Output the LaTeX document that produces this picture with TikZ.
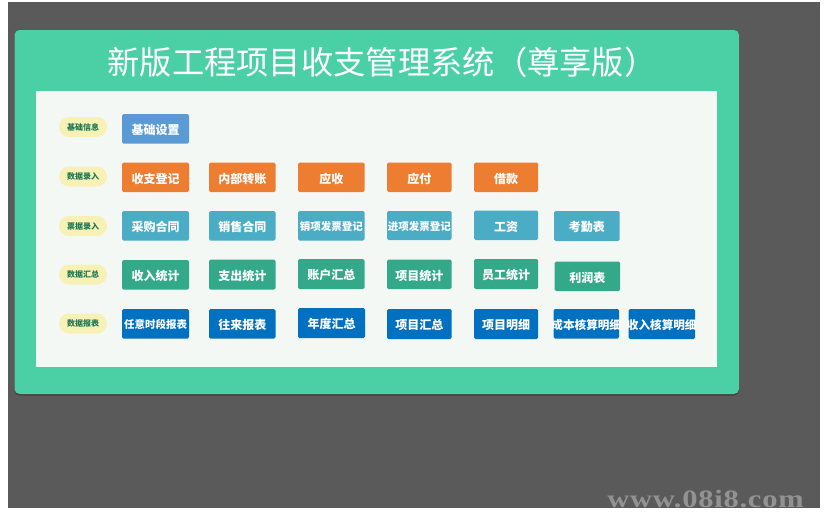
\documentclass[tikz,border=0pt]{standalone}
\usepackage{fontspec}
\setmainfont{Liberation Serif}
\newfontfamily\cjk{Noto Sans CJK SC}
\definecolor{bggray}{HTML}{5A5A5A}
\definecolor{panelgreen}{HTML}{4BD0A5}
\definecolor{innerbg}{HTML}{F3F8F5}
\definecolor{cblue}{HTML}{5B9BD5}
\definecolor{corange}{HTML}{ED7D31}
\definecolor{cteal}{HTML}{4BACC6}
\definecolor{cgreen}{HTML}{33A98A}
\definecolor{cdeep}{HTML}{0070C0}
\definecolor{pillbg}{HTML}{F7F1B5}
\definecolor{pilltext}{HTML}{1E7A55}
\definecolor{wmark}{HTML}{929292}
\tikzset{
  box/.style={inner sep=0pt,outer sep=0pt,rounded corners=1.5pt},
  btn/.style={box,text=white,text height=11.8pt,text depth=0pt,font=\cjk\bfseries\fontsize{12}{12}\selectfont},
  tight/.style={text height=10.4pt,font=\cjk\bfseries\fontsize{10.5}{10.5}\selectfont},
  wide/.style={text height=11.4pt,font=\cjk\bfseries\fontsize{11.6}{11.6}\selectfont},
  pill/.style={inner sep=0pt,outer sep=0pt,rounded corners=10pt,fill=pillbg,text=pilltext,font=\cjk\bfseries\fontsize{8}{8}\selectfont},
}
\newcommand\rectnode[7]{%
  \node[#2,minimum width={#5-#3},minimum height={#6-#4}] (#1) at ({(#3+#5)/2},{(#4+#6)/2}) {\hbox to 0pt{\hss #7\hss}};}
\begin{document}
\begin{tikzpicture}[x=1pt,y=-1pt]
\useasboundingbox (0,0) rectangle (824,517);
\fill[white] (0,0) rectangle (824,517);
\fill[bggray] (7.5,2) rectangle (820,508);
\fill[black!75,rounded corners=5pt] (14.5,31) rectangle (739,395.5);
\fill[panelgreen,rounded corners=5pt] (14.5,30) rectangle (739,394);
\fill[innerbg] (36,91) rectangle (717,367);
\node[text=white,font=\cjk\fontsize{32.3}{33}\selectfont,inner sep=0pt] (title) at (382,62.5) {新版工程项目收支管理系统（尊享版）};
% row labels
\rectnode{p1}{pill}{59}{117}{107}{137}{基础信息}
\rectnode{p2}{pill}{59}{166.5}{107}{186.5}{数据录入}
\rectnode{p3}{pill}{59}{216}{107}{236}{票据录入}
\rectnode{p4}{pill}{59}{264.5}{107}{284.5}{数据汇总}
\rectnode{p5}{pill}{59}{313.5}{107}{333.5}{数据报表}
% row 1
\rectnode{a1}{btn,fill=cblue}{122}{114}{189}{143.5}{基础设置}
% row 2
\rectnode{b1}{btn,fill=corange}{122}{162.5}{189}{192}{收支登记}
\rectnode{b2}{btn,fill=corange}{209}{162.5}{275.5}{192}{内部转账}
\rectnode{b3}{btn,fill=corange}{298}{162.5}{364.5}{192}{应收}
\rectnode{b4}{btn,fill=corange}{387}{162.5}{451.5}{192}{应付}
\rectnode{b5}{btn,fill=corange}{474}{162.5}{538}{192}{借款}
% row 3
\rectnode{c1}{btn,fill=cteal}{122}{211}{189}{240.5}{采购合同}
\rectnode{c2}{btn,fill=cteal}{209}{211}{275.5}{240.5}{销售合同}
\rectnode{c3}{btn,tight,fill=cteal}{298}{211}{364.5}{240.5}{销项发票登记}
\rectnode{c4}{btn,tight,fill=cteal}{387}{211}{451.5}{240}{进项发票登记}
\rectnode{c5}{btn,fill=cteal}{474}{210.5}{538}{240}{工资}
\rectnode{c6}{btn,fill=cteal}{554}{211}{619.5}{241}{考勤表}
% row 4
\rectnode{d1}{btn,fill=cgreen}{122}{260}{189}{289.5}{收入统计}
\rectnode{d2}{btn,fill=cgreen}{209}{259.5}{275.5}{289.5}{支出统计}
\rectnode{d3}{btn,fill=cgreen}{298}{259}{364.5}{289}{账户汇总}
\rectnode{d4}{btn,fill=cgreen}{387}{259.5}{451.5}{289}{项目统计}
\rectnode{d5}{btn,fill=cgreen}{474}{259}{538}{289}{员工统计}
\rectnode{d6}{btn,fill=cgreen}{554.5}{261.5}{620}{291}{利润表}
% row 5
\rectnode{e1}{btn,tight,fill=cdeep}{122}{309}{189}{338.5}{任意时段报表}
\rectnode{e2}{btn,fill=cdeep}{209}{309}{275.5}{338.5}{往来报表}
\rectnode{e3}{btn,fill=cdeep}{298}{308}{365}{338}{年度汇总}
\rectnode{e4}{btn,fill=cdeep}{387}{309}{451.5}{339}{项目汇总}
\rectnode{e5}{btn,fill=cdeep}{474}{309}{538}{339}{项目明细}
\rectnode{e6}{btn,wide,fill=cdeep}{553.5}{309}{619}{338.5}{成本核算明细}
\rectnode{e7}{btn,wide,fill=cdeep}{628.5}{309}{695}{339}{收入核算明细}
% watermark
\node[text=wmark,inner sep=0pt,xscale=1.22,transform shape,font=\bfseries\fontsize{25}{25}\selectfont] (wm) at (705.5,499) {\addfontfeature{LetterSpace=2.5}www.08i8.com};
\end{tikzpicture}
\end{document}
